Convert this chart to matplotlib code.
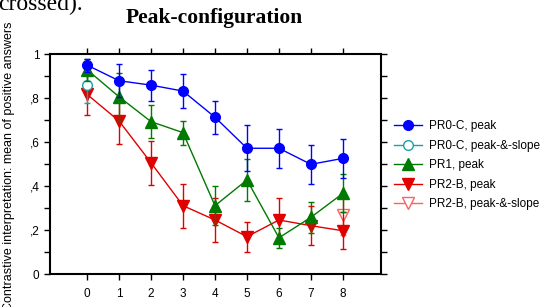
import numpy as np
import matplotlib
matplotlib.use("Agg")
import matplotlib.pyplot as plt
from matplotlib.lines import Line2D
from matplotlib.ticker import FixedLocator, MultipleLocator, FuncFormatter

plt.rcParams['font.family'] = ['Liberation Sans', 'DejaVu Sans']

# Data
pos = [0, 1, 2, 3, 4, 5, 6, 7, 8]

pr0c_peak = [0.951, 0.880, 0.860, 0.833, 0.714, 0.573, 0.573, 0.500, 0.527]
pr0c_peak_err = [0.03, 0.075, 0.07, 0.078, 0.076, 0.104, 0.089, 0.089, 0.088]

pr0c_slope_x = [0]
pr0c_slope = [0.860]
pr0c_slope_err = [0.08]

pr1_peak = [0.930, 0.807, 0.694, 0.644, 0.312, 0.429, 0.166, 0.259, 0.368]
pr1_peak_err = [0.05, 0.11, 0.075, 0.055, 0.088, 0.097, 0.045, 0.07, 0.087]

pr2b_peak = [0.818, 0.697, 0.507, 0.312, 0.247, 0.171, 0.247, 0.221, 0.198]
pr2b_peak_err = [0.095, 0.103, 0.10, 0.10, 0.10, 0.068, 0.10, 0.09, 0.085]

pr2b_slope_x = [8]
pr2b_slope = [0.270]
pr2b_slope_err = [0.09]

# series styles: (label, color, marker, size, filled)
styles = [
    ('PR0-C, peak', '#0000ff', 'o', 7, True),
    ('PR0-C, peak-&-slope', '#1aa3a3', 'o', 7, False),
    ('PR1, peak', '#007a00', '^', 8, True),
    ('PR2-B, peak', '#e00000', 'v', 8, True),
    ('PR2-B, peak-&-slope', '#ff6060', 'v', 8, False),
]
series = [
    (pos, pr0c_peak, pr0c_peak_err),
    (pr0c_slope_x, pr0c_slope, pr0c_slope_err),
    (pos, pr1_peak, pr1_peak_err),
    (pos, pr2b_peak, pr2b_peak_err),
    (pr2b_slope_x, pr2b_slope, pr2b_slope_err),
]
zorders = [6, 4, 5, 3, 2]

fig = plt.figure(figsize=(5.45, 3.07), dpi=100)
ax = fig.add_axes([0.0917, 0.1065, 0.6073, 0.7165])

handles = []
for (label, color, marker, ms, filled), (x, y, e), z in zip(styles, series, zorders):
    face = color if filled else 'white'
    ax.errorbar(x, y, yerr=e, color=color, marker=marker, markersize=ms,
                markerfacecolor=face, markeredgecolor=color, linewidth=1,
                elinewidth=1, capsize=2.5, capthick=1, zorder=z)
    handles.append(Line2D([], [], color=color, marker=marker, markersize=ms,
                          markerfacecolor=face, markeredgecolor=color,
                          linewidth=1, label=label))

ax.set_xlim(-1.16, 9.19)
ax.set_ylim(0, 1)

ax.xaxis.set_major_locator(FixedLocator(pos))
ax.yaxis.set_major_locator(MultipleLocator(0.2))
ax.yaxis.set_minor_locator(MultipleLocator(0.1))
ax.yaxis.set_major_formatter(FuncFormatter(
    lambda v, p: '0' if v == 0 else ('1' if abs(v - 1) < 1e-9 else ',%d' % round(v * 10))))

ax.tick_params(axis='both', which='both', direction='out', labelsize=8.5,
               width=1, length=4, top=True, right=True, color='black')
ax.tick_params(axis='x', pad=6)
for s in ax.spines.values():
    s.set_linewidth(1.5)

ax.set_ylabel('Contrastive interpretation: mean of positive answers', fontsize=9)
ax.yaxis.set_label_coords(-0.107, 0.49)

fig.text(0.3936, 1 - 18 / 307, 'Peak-configuration', family='Liberation Serif',
         fontweight='bold', fontsize=15.5, ha='center', va='center')
fig.text(-0.004, 1 - 10 / 307, 'crossed).', family='Liberation Serif',
         fontsize=17, ha='left', va='baseline')

ax.legend(handles=handles, loc='upper left', bbox_to_anchor=(0.714, 0.623),
          bbox_transform=fig.transFigure, frameon=False, fontsize=8.5,
          handlelength=2.4, handletextpad=0.6, labelspacing=0.63, borderaxespad=0)
fig.savefig('out.png', dpi=100)
